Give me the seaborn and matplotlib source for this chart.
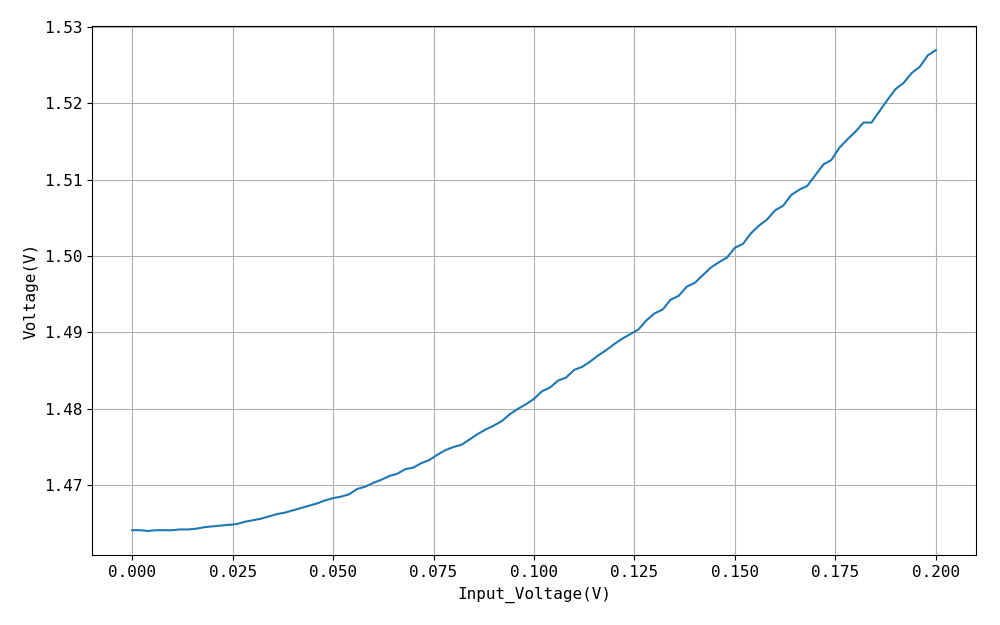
import numpy as np
import pandas as pd
import matplotlib
matplotlib.use('Agg')
import matplotlib.pyplot as plt
import seaborn as sns

# input sweep (V)
input_voltage = [
    0.000, 0.002, 0.004, 0.006, 0.008, 0.010, 0.012, 0.014, 0.016, 0.018,
    0.020, 0.022, 0.024, 0.026, 0.028, 0.030, 0.032, 0.034, 0.036, 0.038,
    0.040, 0.042, 0.044, 0.046, 0.048, 0.050, 0.052, 0.054, 0.056, 0.058,
    0.060, 0.062, 0.064, 0.066, 0.068, 0.070, 0.072, 0.074, 0.076, 0.078,
    0.080, 0.082, 0.084, 0.086, 0.088, 0.090, 0.092, 0.094, 0.096, 0.098,
    0.100, 0.102, 0.104, 0.106, 0.108, 0.110, 0.112, 0.114, 0.116, 0.118,
    0.120, 0.122, 0.124, 0.126, 0.128, 0.130, 0.132, 0.134, 0.136, 0.138,
    0.140, 0.142, 0.144, 0.146, 0.148, 0.150, 0.152, 0.154, 0.156, 0.158,
    0.160, 0.162, 0.164, 0.166, 0.168, 0.170, 0.172, 0.174, 0.176, 0.178,
    0.180, 0.182, 0.184, 0.186, 0.188, 0.190, 0.192, 0.194, 0.196, 0.198,
    0.200,
]

# measured output (V)
voltage = [
    1.4641, 1.4641, 1.4640, 1.4641, 1.4641, 1.4641, 1.4642, 1.4642, 1.4643, 1.4645,
    1.4646, 1.4647, 1.4648, 1.4649, 1.4652, 1.4654, 1.4656, 1.4659, 1.4662, 1.4664,
    1.4667, 1.4670, 1.4673, 1.4676, 1.4680, 1.4683, 1.4685, 1.4688, 1.4695, 1.4698,
    1.4703, 1.4707, 1.4712, 1.4715, 1.4721, 1.4723, 1.4729, 1.4733, 1.4740, 1.4746,
    1.4750, 1.4753, 1.4760, 1.4767, 1.4773, 1.4778, 1.4784, 1.4793, 1.4800, 1.4806,
    1.4813, 1.4823, 1.4828, 1.4837, 1.4841, 1.4851, 1.4855, 1.4862, 1.4870, 1.4877,
    1.4885, 1.4892, 1.4898, 1.4904, 1.4916, 1.4925, 1.4930, 1.4943, 1.4948, 1.4960,
    1.4965, 1.4975, 1.4985, 1.4992, 1.4998, 1.5011, 1.5016, 1.5030, 1.5040, 1.5048,
    1.5060, 1.5066, 1.5080, 1.5087, 1.5092, 1.5106, 1.5120, 1.5126, 1.5142, 1.5153,
    1.5163, 1.5175, 1.5175, 1.5190, 1.5205, 1.5219, 1.5227, 1.5240, 1.5248, 1.5263,
    1.5270,
]

df = pd.DataFrame({'Input_Voltage': input_voltage, 'Voltage': voltage})

plt.rcParams['font.family'] = ['DejaVu Sans Mono', 'Noto Sans CJK SC']

fig = plt.figure(figsize=(10, 6.25), dpi=100, facecolor='white')
ax = fig.add_axes([0.092, 0.112, 0.884, 0.8464])
sns.lineplot(data=df, x='Input_Voltage', y='Voltage', ax=ax,
             color='#1f77b4', linewidth=1.5)
ax.grid(True, color='#b0b0b0', linewidth=0.8)
ax.set_axisbelow(True)
ax.set_xlabel('Input_Voltage(V)', fontsize=11.5, labelpad=5)
ax.set_ylabel('Voltage(V)', fontsize=11.5, labelpad=4)
ax.tick_params(labelsize=11.5)
for spine in ax.spines.values():
    spine.set_color('black')

fig.savefig('out.png', dpi=100, facecolor='white')
